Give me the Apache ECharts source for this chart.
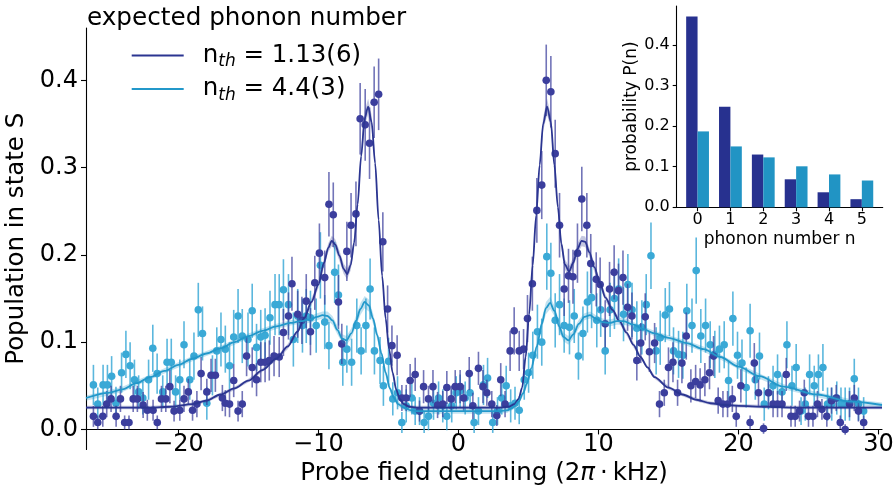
<!DOCTYPE html>
<html><head><meta charset="utf-8">
<script src="https://cdn.jsdelivr.net/npm/echarts@6/dist/echarts.min.js"></script>
<style>html,body{margin:0;padding:0;background:#fff}#c{width:894px;height:491px}</style>
</head><body><div id="c"></div>
<script>
// ---------- data ----------
const xTicks = [-20, -10, 0, 10, 20, 30];
const yTicks = [0, 0.1, 0.2, 0.3, 0.4];
const insetCats = [0, 1, 2, 3, 4, 5];
const insetYTicks = [0, 0.1, 0.2, 0.3, 0.4];
const insetDark = [0.470, 0.248, 0.130, 0.069, 0.037, 0.020];
const insetLight = [0.187, 0.150, 0.123, 0.101, 0.081, 0.066];
const seriesNames = ['n_th = 1.13(6)', 'n_th = 4.4(3)'];

// measured points: [detuning, population, error]
const darkPts = [
[-26.07,0.015,0.012],[-25.76,0.008,0.008],[-25.40,0.015,0.012],[-25.12,0.029,0.015],[-24.81,0.035,0.015],
[-24.45,0.015,0.012],[-24.14,0.035,0.015],[-23.84,0.008,0.008],[-23.53,0.008,0.008],[-23.23,0.035,0.015],
[-22.93,0.035,0.015],[-22.52,0.028,0.015],[-22.22,0.022,0.012],[-21.81,0.022,0.012],[-21.51,0.008,0.008],
[-21.21,0.035,0.015],[-20.90,0.035,0.015],[-20.61,0.049,0.019],[-20.31,0.021,0.012],[-19.90,0.022,0.012],
[-19.60,0.035,0.015],[-19.29,0.043,0.015],[-18.99,0.022,0.012],[-18.68,0.029,0.015],[-18.38,0.064,0.019],
[-17.97,0.043,0.015],[-17.67,0.062,0.019],[-17.36,0.062,0.019],[-16.86,0.036,0.015],[-16.65,0.030,0.015],
[-16.35,0.029,0.015],[-16.05,0.056,0.019],[-15.74,0.021,0.012],[-15.44,0.029,0.015],[-15.13,0.084,0.023],
[-14.73,0.071,0.023],[-14.42,0.057,0.019],[-14.12,0.077,0.023],[-13.81,0.077,0.023],[-13.51,0.079,0.023],
[-13.17,0.084,0.023],[-12.80,0.083,0.023],[-12.50,0.111,0.027],[-12.14,0.130,0.027],[-11.89,0.167,0.031],
[-11.48,0.132,0.027],[-11.18,0.125,0.027],[-10.87,0.147,0.031],[-10.57,0.112,0.027],[-10.26,0.168,0.031],
[-9.93,0.202,0.034],[-9.55,0.174,0.031],[-9.25,0.258,0.037],[-8.94,0.246,0.037],[-8.57,0.146,0.031],
[-8.33,0.098,0.023],[-7.97,0.204,0.034],[-7.67,0.234,0.037],[-7.32,0.247,0.037],[-7.02,0.356,0.041],
[-6.66,0.349,0.041],[-6.35,0.328,0.041],[-6.02,0.375,0.041],[-5.70,0.384,0.041],[-5.40,0.215,0.034],
[-5.06,0.138,0.027],[-4.75,0.096,0.023],[-4.38,0.085,0.023],[-4.04,0.036,0.015],[-3.73,0.036,0.015],
[-3.45,0.056,0.019],[-3.09,0.063,0.019],[-2.78,0.021,0.012],[-2.49,0.049,0.019],[-2.14,0.035,0.015],
[-1.82,0.049,0.019],[-1.49,0.028,0.015],[-1.12,0.029,0.015],[-0.83,0.048,0.019],[-0.52,0.035,0.015],
[-0.23,0.049,0.019],[0.12,0.049,0.019],[0.37,0.036,0.015],[0.77,0.064,0.019],[1.03,0.027,0.015],
[1.43,0.070,0.019],[1.75,0.049,0.019],[2.03,0.042,0.015],[2.38,0.029,0.015],[2.74,0.016,0.012],
[3.02,0.057,0.019],[3.33,0.029,0.015],[3.69,0.090,0.023],[3.98,0.113,0.027],[4.34,0.090,0.023],
[4.65,0.092,0.023],[4.93,0.127,0.027],[5.28,0.167,0.031],[5.60,0.251,0.037],[5.95,0.280,0.039],
[6.27,0.400,0.041],[6.60,0.387,0.041],[6.91,0.316,0.039],[7.22,0.234,0.037],[7.55,0.161,0.031],
[7.86,0.176,0.031],[8.18,0.175,0.031],[8.50,0.202,0.034],[8.81,0.264,0.037],[9.17,0.234,0.037],
[9.45,0.190,0.034],[9.84,0.172,0.031],[10.12,0.166,0.031],[10.48,0.121,0.027],[10.79,0.161,0.031],
[11.12,0.180,0.031],[11.43,0.159,0.031],[11.75,0.174,0.031],[12.08,0.140,0.027],[12.39,0.130,0.027],
[12.74,0.079,0.023],[13.02,0.099,0.023],[13.34,0.129,0.027],[13.64,0.089,0.023],[14.01,0.099,0.023],
[14.36,0.029,0.015],[14.70,0.042,0.015],[15.00,0.071,0.023],[15.32,0.077,0.023],[15.65,0.042,0.015],
[15.96,0.076,0.023],[16.27,0.107,0.027],[16.60,0.050,0.019],[16.94,0.055,0.019],[17.26,0.051,0.019],
[17.60,0.057,0.019],[17.93,0.065,0.019],[18.22,0.084,0.023],[18.55,0.033,0.015],[18.89,0.029,0.015],
[19.22,0.029,0.015],[19.56,0.035,0.015],[19.84,0.015,0.012],[20.17,0.050,0.019],[20.83,0.008,0.008],
[21.13,0.076,0.023],[21.43,0.042,0.015],[21.79,0.001,0.006],[22.14,0.042,0.015],[22.47,0.029,0.015],
[22.79,0.029,0.015],[23.11,0.029,0.015],[23.41,0.063,0.019],[23.75,0.015,0.012],[24.05,0.015,0.012],
[24.36,0.021,0.012],[24.70,0.042,0.015],[25.00,0.015,0.012],[25.32,0.015,0.012],[25.64,0.029,0.015],
[25.96,0.023,0.012],[26.31,0.015,0.012],[26.64,0.033,0.015],[26.98,0.036,0.015],[27.27,0.008,0.008],
[27.62,0.000,0.006],[27.93,0.029,0.015],[28.27,0.036,0.015],[28.57,0.021,0.012],[28.94,0.008,0.008]
];

const lightPts = [
[-26.07,0.051,0.023],[-25.76,0.029,0.019],[-25.38,0.051,0.023],[-25.07,0.051,0.023],[-24.77,0.061,0.023],
[-24.46,0.030,0.019],[-24.06,0.065,0.023],[-23.75,0.086,0.027],[-23.45,0.073,0.027],[-23.14,0.057,0.023],
[-22.84,0.043,0.019],[-22.54,0.036,0.019],[-22.13,0.057,0.023],[-21.83,0.093,0.027],[-21.52,0.064,0.023],
[-21.12,0.043,0.019],[-20.81,0.077,0.027],[-20.51,0.077,0.027],[-20.20,0.043,0.019],[-19.90,0.057,0.023],
[-19.60,0.097,0.027],[-19.19,0.057,0.023],[-18.89,0.084,0.027],[-18.58,0.137,0.031],[-18.28,0.110,0.031],
[-17.97,0.030,0.019],[-17.57,0.062,0.023],[-17.26,0.090,0.027],[-16.96,0.103,0.031],[-16.65,0.092,0.027],
[-16.35,0.073,0.027],[-16.05,0.106,0.031],[-15.74,0.130,0.031],[-15.44,0.107,0.031],[-15.03,0.103,0.031],
[-14.73,0.136,0.031],[-14.42,0.094,0.027],[-14.12,0.106,0.031],[-13.81,0.108,0.031],[-13.46,0.128,0.031],
[-13.10,0.143,0.035],[-12.80,0.143,0.035],[-12.50,0.160,0.035],[-12.14,0.143,0.035],[-11.79,0.103,0.031],
[-11.48,0.130,0.031],[-11.14,0.119,0.031],[-10.87,0.130,0.031],[-10.57,0.128,0.031],[-10.16,0.119,0.031],
[-9.86,0.188,0.038],[-9.55,0.123,0.031],[-9.25,0.096,0.027],[-8.84,0.180,0.035],[-8.57,0.154,0.035],
[-8.26,0.077,0.027],[-7.97,0.092,0.027],[-7.63,0.077,0.027],[-7.26,0.119,0.031],[-6.95,0.090,0.027],
[-6.61,0.119,0.031],[-6.31,0.161,0.035],[-6.00,0.090,0.027],[-5.60,0.079,0.027],[-5.36,0.050,0.023],
[-4.99,0.078,0.027],[-4.69,0.035,0.019],[-4.35,0.042,0.019],[-4.04,0.008,0.012],[-3.73,0.027,0.019],
[-3.33,0.036,0.019],[-3.09,0.021,0.016],[-2.78,0.021,0.016],[-2.45,0.008,0.012],[-2.14,0.015,0.016],
[-1.78,0.030,0.019],[-1.42,0.036,0.019],[-1.12,0.027,0.019],[-0.83,0.015,0.016],[-0.48,0.027,0.019],
[-0.16,0.042,0.019],[0.12,0.044,0.019],[0.48,0.036,0.019],[0.83,0.042,0.019],[1.12,0.008,0.012],
[1.43,0.021,0.016],[1.79,0.051,0.023],[2.08,0.059,0.023],[2.45,0.008,0.012],[2.79,0.021,0.016],
[3.09,0.036,0.019],[3.41,0.050,0.023],[3.73,0.027,0.019],[4.04,0.030,0.019],[4.34,0.022,0.016],
[4.70,0.057,0.023],[5.01,0.065,0.023],[5.31,0.085,0.027],[5.64,0.112,0.031],[5.95,0.100,0.027],
[6.31,0.198,0.038],[6.60,0.179,0.035],[6.91,0.125,0.031],[7.22,0.143,0.035],[7.55,0.119,0.031],
[7.93,0.117,0.031],[8.27,0.130,0.031],[8.57,0.084,0.027],[8.89,0.110,0.031],[9.21,0.146,0.035],
[9.51,0.151,0.035],[9.88,0.125,0.031],[10.16,0.137,0.031],[10.48,0.090,0.027],[10.83,0.137,0.031],
[11.14,0.150,0.035],[11.44,0.161,0.035],[11.79,0.132,0.031],[12.10,0.166,0.035],[12.40,0.137,0.031],
[12.74,0.116,0.031],[13.10,0.117,0.031],[13.41,0.143,0.035],[13.75,0.199,0.038],[14.12,0.090,0.027],
[14.41,0.105,0.031],[14.77,0.131,0.031],[15.07,0.138,0.031],[15.36,0.090,0.027],[15.72,0.086,0.027],
[16.03,0.085,0.027],[16.31,0.136,0.031],[16.68,0.119,0.031],[16.98,0.182,0.038],[17.31,0.107,0.031],
[17.65,0.119,0.031],[17.98,0.097,0.027],[18.31,0.086,0.027],[18.64,0.092,0.027],[18.98,0.097,0.027],
[19.29,0.056,0.023],[19.60,0.127,0.031],[19.93,0.085,0.027],[20.25,0.076,0.027],[20.55,0.048,0.023],
[20.83,0.113,0.031],[21.20,0.057,0.023],[21.50,0.084,0.027],[21.84,0.029,0.019],[22.14,0.042,0.019],
[22.47,0.050,0.023],[22.79,0.063,0.023],[23.11,0.043,0.019],[23.46,0.097,0.027],[23.82,0.050,0.023],
[24.12,0.071,0.027],[24.47,0.021,0.016],[24.77,0.029,0.019],[25.08,0.063,0.023],[25.41,0.050,0.023],
[25.71,0.063,0.023],[26.03,0.071,0.027],[26.36,0.029,0.019],[26.66,0.029,0.019],[27.02,0.036,0.019],
[27.32,0.029,0.019],[27.62,0.029,0.019],[27.93,0.029,0.019],[28.27,0.058,0.023],[28.57,0.029,0.019],
[28.94,0.021,0.016]
];

// fitted curves: [detuning, population, confidence half-width]
const darkFit = [
[-26.6,0.025,0.002],[-24,0.025,0.002],[-22,0.025,0.002],[-20.5,0.026,0.002],[-19,0.029,0.002],
[-18,0.033,0.002],[-17,0.040,0.002],[-16,0.047,0.002],[-15,0.056,0.002],[-14,0.068,0.002],
[-13,0.081,0.002],[-12.2,0.095,0.003],[-11.5,0.112,0.003],[-11,0.128,0.003],[-10.5,0.146,0.004],
[-10,0.166,0.004],[-9.6,0.191,0.005],[-9.3,0.208,0.005],[-9.05,0.216,0.006],[-8.8,0.212,0.006],
[-8.5,0.199,0.006],[-8.2,0.184,0.006],[-7.95,0.178,0.006],[-7.7,0.188,0.006],[-7.45,0.214,0.006],
[-7.2,0.258,0.007],[-6.95,0.313,0.008],[-6.7,0.356,0.009],[-6.45,0.370,0.009],[-6.2,0.352,0.008],
[-5.95,0.305,0.007],[-5.7,0.240,0.006],[-5.45,0.176,0.005],[-5.2,0.127,0.004],[-4.95,0.092,0.003],
[-4.7,0.065,0.003],[-4.45,0.046,0.002],[-4.2,0.035,0.002],[-3.9,0.029,0.002],[-3.5,0.026,0.002],
[-3.0,0.025,0.002],[3.0,0.025,0.002],[3.6,0.026,0.002],[4.0,0.029,0.002],[4.3,0.035,0.002],
[4.55,0.048,0.003],[4.8,0.083,0.003],[5.05,0.132,0.004],[5.3,0.188,0.005],[5.55,0.245,0.006],
[5.8,0.303,0.007],[6.05,0.350,0.008],[6.33,0.370,0.009],[6.6,0.352,0.008],[6.85,0.303,0.007],
[7.1,0.255,0.006],[7.35,0.213,0.006],[7.6,0.189,0.006],[7.9,0.181,0.006],[8.2,0.191,0.006],
[8.5,0.207,0.006],[8.8,0.216,0.006],[9.05,0.215,0.006],[9.35,0.203,0.005],[9.7,0.186,0.005],
[10.1,0.168,0.004],[10.5,0.151,0.004],[11.0,0.137,0.003],[11.5,0.124,0.003],[12.0,0.111,0.003],
[12.5,0.097,0.003],[13.0,0.083,0.002],[13.5,0.071,0.002],[14.0,0.060,0.002],[15.0,0.048,0.002],
[16.0,0.040,0.002],[17.0,0.034,0.002],[18.0,0.030,0.002],[19.0,0.028,0.002],[20.0,0.027,0.002],
[22.0,0.026,0.002],[24.0,0.025,0.002],[30.25,0.025,0.002]
];
const lightFit = [
[-26.6,0.036,0.003],[-25,0.042,0.003],[-24,0.046,0.003],[-23,0.053,0.003],[-22,0.060,0.003],
[-21,0.067,0.003],[-20,0.074,0.003],[-19,0.081,0.003],[-18,0.087,0.003],[-17,0.093,0.003],
[-16,0.100,0.003],[-15,0.107,0.003],[-14,0.113,0.003],[-13,0.118,0.003],[-12,0.122,0.003],
[-11.3,0.124,0.003],[-10.6,0.126,0.004],[-10.1,0.129,0.004],[-9.7,0.131,0.004],[-9.35,0.130,0.005],
[-9.0,0.125,0.005],[-8.65,0.114,0.005],[-8.3,0.104,0.005],[-8.0,0.102,0.005],[-7.65,0.110,0.006],
[-7.3,0.125,0.006],[-7.0,0.138,0.007],[-6.7,0.146,0.007],[-6.4,0.142,0.007],[-6.1,0.127,0.006],
[-5.8,0.108,0.005],[-5.5,0.087,0.004],[-5.2,0.065,0.004],[-4.9,0.047,0.003],[-4.6,0.036,0.003],
[-4.3,0.029,0.003],[-3.9,0.025,0.003],[-3.4,0.022,0.003],[-3.0,0.021,0.003],[3.0,0.021,0.003],
[3.5,0.022,0.003],[3.95,0.026,0.003],[4.3,0.032,0.003],[4.6,0.041,0.003],[4.9,0.053,0.004],
[5.2,0.070,0.004],[5.6,0.095,0.005],[5.95,0.121,0.006],[6.25,0.139,0.007],[6.55,0.145,0.007],
[6.85,0.136,0.006],[7.2,0.118,0.006],[7.5,0.106,0.005],[7.85,0.102,0.005],[8.2,0.109,0.005],
[8.6,0.121,0.005],[9.0,0.129,0.004],[9.4,0.131,0.004],[9.8,0.127,0.004],[10.3,0.123,0.004],
[10.8,0.122,0.004],[11.3,0.124,0.004],[11.8,0.124,0.004],[12.5,0.120,0.003],[13.2,0.115,0.003],
[14.0,0.110,0.003],[15.0,0.105,0.003],[16.3,0.099,0.003],[17.5,0.092,0.003],[18.7,0.083,0.003],
[20.0,0.072,0.003],[21.5,0.061,0.003],[23.2,0.049,0.003],[25.6,0.040,0.003],[28.0,0.032,0.003],
[30.25,0.028,0.003]
];

// ---------- chart ----------
const FONT = 'DejaVu Sans';
const DARK_LINE = '#2b3591', DARK_PT = '#3b3e9d', DARK_ERR = 'rgba(59,62,157,0.72)', DARK_BAND = 'rgba(43,53,145,0.28)';
const LIGHT_LINE = '#2398ca', LIGHT_PT = '#3aa9d6', LIGHT_ERR = 'rgba(45,163,212,0.78)', LIGHT_BAND = 'rgba(35,152,202,0.28)';
const BAR_DARK = '#27318f', BAR_LIGHT = '#2194c4';
const Y_MIN = -0.023, Y_MAX = 0.46, GRID_H = 421.5;

function errSeries(id, pts, color, z) {
  return {
    type: 'custom', id: id, xAxisIndex: 0, yAxisIndex: 0, data: pts, encode: { x: 0, y: 1 }, z: z, silent: true,
    renderItem: function (params, api) {
      const x = api.value(0), y = api.value(1), e = api.value(2);
      const a = api.coord([x, y - e]), b = api.coord([x, y + e]);
      return { type: 'line', shape: { x1: a[0], y1: a[1], x2: b[0], y2: b[1] }, style: { stroke: color, lineWidth: 1.6 } };
    }
  };
}
function ptSeries(id, pts, color, z) {
  return {
    type: 'scatter', id: id, xAxisIndex: 0, yAxisIndex: 0, data: pts.map(p => [p[0], p[1]]), z: z, silent: true,
    symbol: 'circle', symbolSize: 7.6, itemStyle: { color: color, opacity: 1 }
  };
}
function bandSeries(id, fit, color, z) {
  return {
    type: 'custom', id: id, xAxisIndex: 0, yAxisIndex: 0, data: fit, encode: { x: 0, y: 1 }, z: z, silent: true,
    renderItem: function (params, api) {
      if (params.dataIndex !== 0) return null;
      const up = [], lo = [];
      fit.forEach(p => { up.push(api.coord([p[0], p[1] + p[2]])); lo.push(api.coord([p[0], p[1] - p[2]])); });
      return { type: 'polygon', shape: { points: up.concat(lo.reverse()) }, style: { fill: color } };
    }
  };
}
function lineSeries(name, fit, color, z) {
  return {
    type: 'line', name: name, xAxisIndex: 0, yAxisIndex: 0, data: fit.map(p => [p[0], p[1]]), z: z,
    showSymbol: false, symbol: 'none', smooth: 0.3, smoothMonotone: 'x', silent: true,
    color: color, itemStyle: { color: color }, lineStyle: { color: color, width: 1.8 }
  };
}

const axisTxt = { fontFamily: FONT, color: '#000' };
const blackLine = { color: '#000', width: 1.1 };
// x axis sits at population = 0 (spine lifted from grid bottom)
const xAxisLift = -(0 - Y_MIN) / (Y_MAX - Y_MIN) * GRID_H;

const option = {
  animation: false,
  backgroundColor: '#fff',
  title: {
    text: 'expected phonon number', left: 87, top: 6, padding: 0,
    textStyle: { fontSize: 24.7, fontWeight: 'normal', fontFamily: FONT, color: '#000' }
  },
  legend: {
    data: seriesNames.map(n => ({ name: n, icon: 'rect' })),
    orient: 'vertical', left: 131.7, top: 43, padding: 0, itemGap: 6,
    itemWidth: 52, itemHeight: 2, selectedMode: false,
    formatter: function (name) { return '{p|n}{s|th}{n| = ' + name.split('= ')[1] + '}'; },
    textStyle: {
      rich: {
        p: { fontSize: 24.5, fontFamily: FONT, color: '#000', lineHeight: 30, padding: [0, 0, 0, 14] },
        n: { fontSize: 24.5, fontFamily: FONT, color: '#000', lineHeight: 30 },
        s: { fontSize: 17, fontFamily: FONT, fontStyle: 'italic', color: '#000', lineHeight: 18, verticalAlign: 'bottom' }
      }
    }
  },
  grid: [
    { left: 86, top: 28, width: 796, height: GRID_H, containLabel: false, outerBoundsMode: 'none' },
    { left: 676.7, top: 6, width: 206, height: 201.3, containLabel: false, outerBoundsMode: 'none' }
  ],
  xAxis: [
    {
      type: 'value', gridIndex: 0, min: -26.6, max: 30.25, offset: xAxisLift,
      axisLine: { show: true, onZero: false, lineStyle: blackLine },
      axisTick: { show: true, length: 5, customValues: xTicks, lineStyle: blackLine },
      axisLabel: Object.assign({ customValues: xTicks, fontSize: 24, margin: 3,
        formatter: v => (v < 0 ? '\u2212' : '') + Math.abs(v) }, axisTxt),
      splitLine: { show: false },
      name: '{a|Probe field detuning (2}{i|\u03c0}{a|\u2009\u00b7\u2009kHz)}', nameLocation: 'middle', nameGap: 26,
      nameTextStyle: { rich: { a: Object.assign({ fontSize: 24.5 }, axisTxt), i: Object.assign({ fontSize: 24.5, fontStyle: 'italic' }, axisTxt) } }
    },
    {
      type: 'value', gridIndex: 1, min: -0.635, max: 5.635,
      axisLine: { show: true, onZero: false, lineStyle: blackLine },
      axisTick: { show: true, length: 4, customValues: insetCats, lineStyle: blackLine },
      axisLabel: Object.assign({ customValues: insetCats, fontSize: 16, margin: 5 }, axisTxt),
      splitLine: { show: false },
      name: 'phonon number n', nameLocation: 'middle', nameGap: 24,
      nameTextStyle: Object.assign({ fontSize: 17 }, axisTxt)
    }
  ],
  yAxis: [
    {
      type: 'value', gridIndex: 0, min: Y_MIN, max: Y_MAX,
      axisLine: { show: true, onZero: false, lineStyle: blackLine },
      axisTick: { show: true, length: 5, customValues: yTicks, lineStyle: blackLine },
      axisLabel: Object.assign({ customValues: yTicks, fontSize: 24, margin: 8, formatter: v => v.toFixed(1) }, axisTxt),
      splitLine: { show: false },
      name: 'Population in state S', nameLocation: 'middle', nameGap: 46,
      nameTextStyle: Object.assign({ fontSize: 24.5 }, axisTxt)
    },
    {
      type: 'value', gridIndex: 1, min: 0, max: 0.496,
      axisLine: { show: true, onZero: false, lineStyle: blackLine },
      axisTick: { show: true, length: 4, customValues: insetYTicks, lineStyle: blackLine },
      axisLabel: Object.assign({ customValues: insetYTicks, fontSize: 16, margin: 7, formatter: v => v.toFixed(1) }, axisTxt),
      splitLine: { show: false },
      name: 'probability P(n)', nameLocation: 'middle', nameGap: 34,
      nameTextStyle: Object.assign({ fontSize: 17 }, axisTxt)
    }
  ],
  series: [
    errSeries('lightErr', lightPts, LIGHT_ERR, 2),
    ptSeries('lightPt', lightPts, LIGHT_PT, 3),
    errSeries('darkErr', darkPts, DARK_ERR, 4),
    ptSeries('darkPt', darkPts, DARK_PT, 5),
    bandSeries('darkBand', darkFit, DARK_BAND, 6),
    bandSeries('lightBand', lightFit, LIGHT_BAND, 6),
    lineSeries(seriesNames[0], darkFit, DARK_LINE, 7),
    lineSeries(seriesNames[1], lightFit, LIGHT_LINE, 7),
    {
      type: 'bar', name: 'insetDark', xAxisIndex: 1, yAxisIndex: 1, barWidth: 11.4, barGap: '0%',
      data: insetCats.map((c, i) => [c, insetDark[i]]), itemStyle: { color: BAR_DARK }, silent: true
    },
    {
      type: 'bar', name: 'insetLight', xAxisIndex: 1, yAxisIndex: 1, barWidth: 11.4, barGap: '0%',
      data: insetCats.map((c, i) => [c, insetLight[i]]), itemStyle: { color: BAR_LIGHT }, silent: true
    }
  ]
};
const chart = echarts.init(document.getElementById('c'), null, { renderer: 'canvas' });
chart.setOption(option);
</script>
</body></html>
